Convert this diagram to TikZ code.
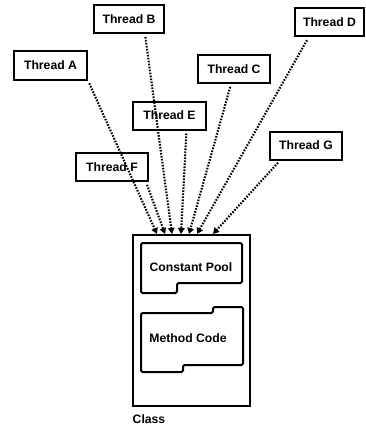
\documentclass[tikz,border=0pt]{standalone}
\usepackage{fontspec}
\setmainfont{Liberation Sans}
\usetikzlibrary{arrows.meta}
\begin{document}
\begin{tikzpicture}[x=1pt,y=-1pt,
  thread/.style={draw, line width=2pt, minimum height=28pt, inner sep=0pt,
    font=\bfseries\fontsize{12.2}{14}\selectfont},
  label/.style={inner sep=0pt, font=\bfseries\fontsize{12.2}{14}\selectfont},
  access/.style={line width=2.1pt, dash pattern=on 1.6pt off 1.4pt,
    shorten <=3pt, -{Triangle[length=6pt,width=6.5pt]}},
  part/.style={draw, line width=2pt, rounded corners=1.5pt}]
\useasboundingbox (0,0) rectangle (365,428);

% threads
\node[thread, minimum width=73pt] (A) at (50.5,65.5) {Thread A};
\node[thread, minimum width=70pt] (B) at (129,19) {Thread B};
\node[thread, minimum width=72pt] (C) at (234,69) {Thread C};
\node[thread, minimum width=69pt] (D) at (329.5,22.5) {Thread D};
\node[thread, minimum width=73pt] (E) at (169.5,115.5) {Thread E};
\node[thread, minimum width=72pt] (F) at (112,167) {Thread F};
\node[thread, minimum width=72pt] (G) at (306,145.5) {Thread G};

% class with its two areas
\draw[line width=2pt] (133,235) rectangle (250,406);
\draw[part] (141,243) -- (242,243) -- (242,283) -- (177,283) -- (177,293) -- (141,293) -- cycle;
\draw[part] (141,313) -- (213,313) -- (213,307) -- (243,307) -- (243,365) -- (183,365) -- (183,372) -- (141,372) -- cycle;
\node[label] (pool) at (191,267) {Constant Pool};
\node[label] (code) at (188,338) {Method Code};
\node[label, anchor=west] (cls) at (132.5,419) {Class};

% entry points on top of the class
\coordinate (t1) at (157,234);
\coordinate (t2) at (165,234);
\coordinate (t3) at (172,234);
\coordinate (t4) at (181,234);
\coordinate (t5) at (189,234);
\coordinate (t6) at (197,234);
\coordinate (t7) at (213,234);

\draw[access] (A.south east) -- (t1);
\draw[access] ([xshift=-3pt]F.south east) -- (t2);
\draw[access] ([xshift=16pt]B.south) -- (t3);
\draw[access] ([xshift=17pt]E.south) -- (t4);
\draw[access] ([xshift=-3pt]C.south) -- (t5);
\draw[access] ([xshift=-21pt]D.south) -- (t6);
\draw[access] ([xshift=-26pt]G.south) -- (t7);
\end{tikzpicture}
\end{document}
